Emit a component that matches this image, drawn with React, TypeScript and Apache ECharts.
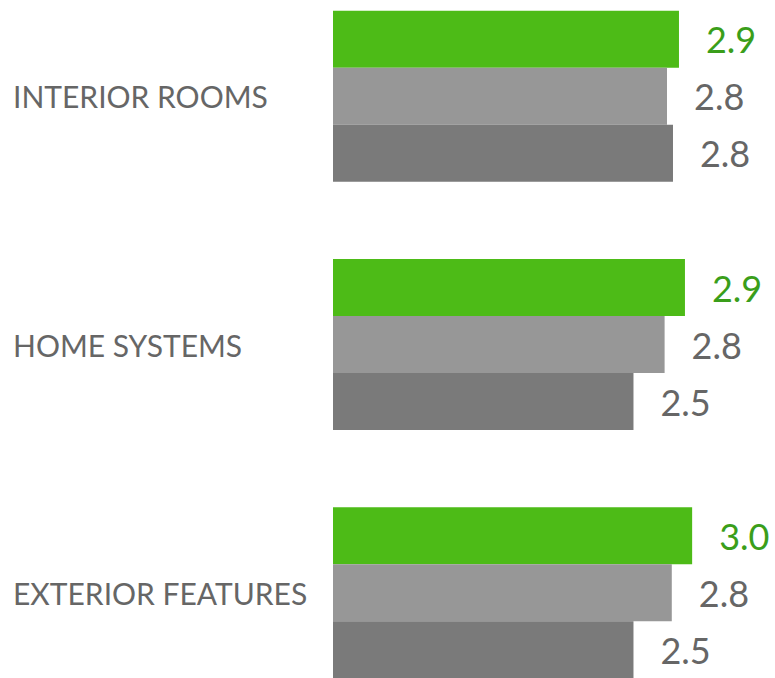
import React, { useEffect, useRef } from "react";
import * as echarts from "echarts";

const categories = ["INTERIOR ROOMS", "HOME SYSTEMS", "EXTERIOR FEATURES"];
const seriesGreen = [2.89, 2.94, 3.0];
const seriesLight = [2.79, 2.77, 2.83];
const seriesDark = [2.84, 2.51, 2.51];

const FONT = "Lato, 'Open Sans', sans-serif";

export default function App() {
  const ref = useRef<HTMLDivElement>(null);
  useEffect(() => {
    if (!ref.current) return;
    const chart = echarts.init(ref.current, undefined, { renderer: "svg" });
    const mk = (name: string, data: number[], color: string, labelColor: string) => ({
      name,
      type: "bar",
      data,
      barWidth: 57,
      barGap: "0%",
      itemStyle: { color },
      label: {
        show: true,
        position: "right",
        distance: 27,
        color: labelColor,
        fontSize: 36,
        fontFamily: FONT,
        fontWeight: 400,
        formatter: (p: any) => Number(p.value).toFixed(1),
      },
    });
    chart.setOption({
      animation: false,
      grid: { left: 333, top: 0, bottom: 0, width: 419, containLabel: false },
      xAxis: {
        type: "value",
        min: 0,
        max: 3.5,
        show: false,
      },
      yAxis: {
        type: "category",
        data: categories,
        inverse: true,
        axisLine: { show: false },
        axisTick: { show: false },
        axisLabel: {
          align: "left",
          margin: 320,
          color: "#666666",
          fontSize: 30,
          fontFamily: FONT,
          fontWeight: 400,
          padding: [4, 0, 0, 0],
        },
      },
      series: [
        mk("Green", seriesGreen, "#4dbb17", "#3a9e1a"),
        mk("Light", seriesLight, "#979797", "#666666"),
        mk("Dark", seriesDark, "#7a7a7a", "#666666"),
      ],
    });
    return () => chart.dispose();
  }, []);
  return (
    <div style={{ position: "fixed", left: 0, top: 0, width: 775, height: 678, overflow: "hidden", background: "#fff" }}>
      <div
        ref={ref}
        style={{ position: "absolute", left: 0, top: -28, width: 775, height: 745 }}
      />
    </div>
  );
}
